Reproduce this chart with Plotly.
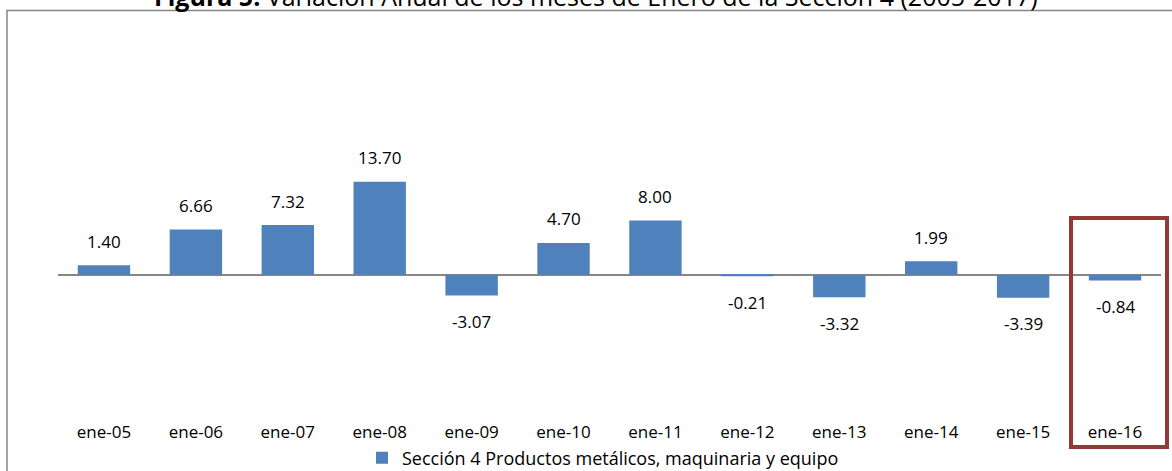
import plotly.graph_objects as go

categories = ["ene-05", "ene-06", "ene-07", "ene-08", "ene-09", "ene-10",
              "ene-11", "ene-12", "ene-13", "ene-14", "ene-15", "ene-16"]
values = [1.40, 6.66, 7.32, 13.70, -3.07, 4.70, 8.00, -0.21, -3.32, 1.99, -3.39, -0.84]
series_name = "Sección 4 Productos metálicos, maquinaria y equipo"
title_bold = "Figura 5."
title_rest = " Variación Anual de los meses de Enero de la Sección 4 (2005-2017)"

W, H = 1172, 471
L, R, T, B = 58, 11, 40, 51
pw, ph = W - L - R, H - T - B

def px(x):
    return (x - L) / pw

def py(y):
    return (H - B - y) / ph

FONT = "Open Sans"
fig = go.Figure()
fig.add_trace(go.Bar(
    x=categories, y=values, name=series_name,
    marker=dict(color="#4F81BD", line=dict(width=0)),
    width=0.57,
))

for c, v in zip(categories, values):
    fig.add_annotation(
        x=c, y=v, text=f"{v:.2f}", showarrow=False,
        yanchor="middle", yshift=24 if v >= 0 else -26,
        font=dict(size=17, color="#000000", family=FONT),
    )

# title (partially cut by the top edge, as in the reference)
fig.add_annotation(
    xref="paper", yref="paper", x=px(596), y=py(-4), xanchor="center", yanchor="middle",
    text=f"<b>{title_bold}</b>{title_rest}", showarrow=False,
    font=dict(size=25, color="#000000", family=FONT),
)

# outer frame
fig.add_shape(type="rect", xref="paper", yref="paper",
              x0=px(7), x1=px(1180), y0=py(10.5), y1=py(480),
              line=dict(color="#868686", width=1.5), layer="below")
# red highlight box
fig.add_shape(type="rect", xref="paper", yref="paper",
              x0=px(1071), x1=px(1167), y0=py(218), y1=py(447),
              line=dict(color="#953735", width=4))

fig.update_layout(
    width=W, height=H,
    margin=dict(l=L, r=R, t=T, b=B, autoexpand=False),
    paper_bgcolor="white", plot_bgcolor="white",
    showlegend=True,
    legend=dict(orientation="h", xref="container", yref="container",
                x=603 / W, xanchor="center", y=1 - 458 / H, yanchor="middle",
                font=dict(size=18, family=FONT, color="#000000"),
                itemwidth=30, bgcolor="rgba(0,0,0,0)"),
    xaxis=dict(type="category", range=[-0.5, 11.5], showgrid=False, showline=False,
               ticks="", tickfont=dict(size=17, family=FONT, color="#000000"),
               ticklabelstandoff=0, automargin=False),
    yaxis=dict(range=[-21.4, 34.6], showgrid=False, showticklabels=False,
               zeroline=True, zerolinecolor="#868686", zerolinewidth=2, showline=False,
               automargin=False),
)

fig.write_html("out.html", config={"displayModeBar": False},
               post_script="document.body.style.margin='0';document.body.style.overflow='hidden';")
